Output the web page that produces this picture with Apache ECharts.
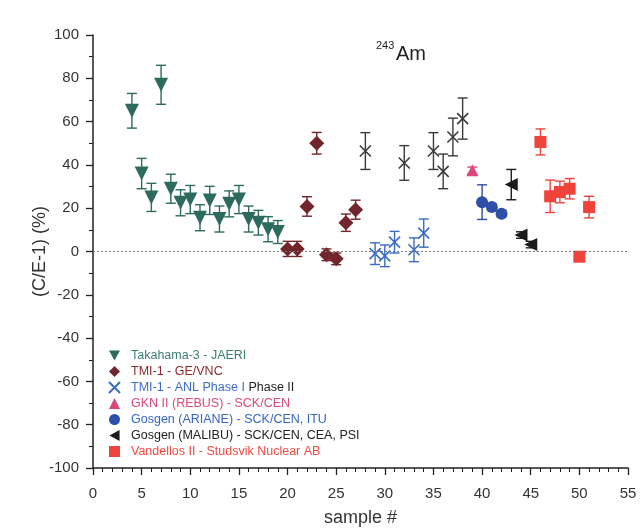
<!DOCTYPE html>
<html>
<head>
<meta charset="utf-8">
<script src="https://cdn.jsdelivr.net/npm/echarts@6/dist/echarts.min.js"></script>
<style>
  html, body { margin: 0; padding: 0; background: #fff; }
  #chart { width: 640px; height: 532px; }
</style>
</head>
<body>
<div id="chart"></div>
<script>
// Takahama-3 - JAERI
var takahamaX = [4, 5, 6, 7, 8, 9, 10, 11, 12, 13, 14, 15, 16, 17, 18, 19];
var takahamaY = [65, 36, 25, 77, 29, 22.5, 24, 15.6, 23.6, 15, 22, 24, 15, 13.3, 10.3, 9];
var takahamaErr = [8, 7, 6.5, 9, 6.7, 6, 6.5, 6, 6.5, 6, 6, 6.5, 6, 5.7, 5.8, 5.3];

// TMI-1 - GE/VNC
var geX = [20, 21, 22, 23, 24, 25, 26, 27];
var geY = [1.2, 1.2, 20.8, 50, -1.5, -3.4, 13.3, 19.3];
var geErr = [3.5, 3.5, 4.5, 5, 2.7, 2.7, 4, 4.4];

// TMI-1 - ANL Phase I
var anl1X = [29, 30, 31, 33, 34];
var anl1Y = [-1, -2, 4.3, 0.8, 8.5];
var anl1Err = [5, 5, 5, 5.5, 6.5];

// TMI-1 - ANL Phase II
var anl2X = [28, 32, 35, 36, 37, 38];
var anl2Y = [46.4, 40.9, 46.4, 37, 52.9, 61.4];
var anl2Err = [8.5, 8, 8.5, 8, 8.7, 9.5];

// GKN II (REBUS) - SCK/CEN
var gknX = [39];
var gknY = [37.5];
var gknErr = [1.5];

// Gosgen (ARIANE) - SCK/CEN, ITU
var arianeX = [40, 41, 42];
var arianeY = [22.8, 20.5, 17.4];
var arianeErr = [8, 1.5, 1.5];

// Gosgen (MALIBU) - SCK/CEN, CEA, PSI
var malibuX = [43, 44, 45];
var malibuY = [30.9, 7.6, 3.2];
var malibuErr = [7, 1.5, 1.5];

// Vandellos II - Studsvik Nuclear AB
var vandX = [46, 47, 48, 49, 50, 51];
var vandY = [50.6, 25.5, 27.5, 29, -2.4, 20.5];
var vandErr = [6, 7.5, 5, 4.7, 0, 5];

var xTicks = [0, 5, 10, 15, 20, 25, 30, 35, 40, 45, 50, 55];
var yTicks = [-100, -80, -60, -40, -20, 0, 20, 40, 60, 80, 100];

var FONT = '"Liberation Sans", Arial, sans-serif';
var CROSS = 'path://M0,0L10,10M10,0L0,10';
var TRI_DOWN = 'path://M0,0L12,0L6,11Z';
var TRI_LEFT = 'path://M11,0L11,12L0,6Z';

function pairs(xs, ys) {
  return xs.map(function (x, i) { return [x, ys[i]]; });
}

function errorBars(xs, ys, errs, color) {
  return {
    type: 'custom',
    silent: true,
    z: 1,
    encode: { x: 0, y: [1, 2] },
    data: xs.map(function (x, i) { return [x, ys[i] - errs[i], ys[i] + errs[i]]; }),
    renderItem: function (params, api) {
      var lo = api.coord([api.value(0), api.value(1)]);
      var hi = api.coord([api.value(0), api.value(2)]);
      var w = 5;
      var st = { stroke: color, lineWidth: 1.4 };
      return {
        type: 'group',
        children: [
          { type: 'line', shape: { x1: lo[0], y1: lo[1], x2: hi[0], y2: hi[1] }, style: st },
          { type: 'line', shape: { x1: lo[0] - w, y1: lo[1], x2: lo[0] + w, y2: lo[1] }, style: st },
          { type: 'line', shape: { x1: hi[0] - w, y1: hi[1], x2: hi[0] + w, y2: hi[1] }, style: st }
        ]
      };
    }
  };
}

var groups = [
  { name: 'Takahama-3 - JAERI', xs: takahamaX, ys: takahamaY, err: takahamaErr,
    color: '#2c6b5d', text: '#3b7f6f', symbol: TRI_DOWN, size: 14 },
  { name: 'TMI-1 - GE/VNC', xs: geX, ys: geY, err: geErr,
    color: '#72262c', text: '#8a2a30', symbol: 'diamond', size: 15 },
  { name: 'TMI-1 - ANL Phase I', xs: anl1X, ys: anl1Y, err: anl1Err,
    color: '#3a6cc4', text: '#3c6cc8', symbol: CROSS, size: 11, cross: true },
  { name: 'Phase II', xs: anl2X, ys: anl2Y, err: anl2Err,
    color: '#3a3a3a', text: '#222', symbol: CROSS, size: 11, cross: true, hidden: true },
  { name: 'GKN II (REBUS) - SCK/CEN', xs: gknX, ys: gknY, err: gknErr,
    color: '#e0457a', text: '#d84a7c', symbol: 'triangle', size: 12 },
  { name: 'Gosgen (ARIANE) - SCK/CEN, ITU', xs: arianeX, ys: arianeY, err: arianeErr,
    color: '#2f4ea8', text: '#3766c0', symbol: 'circle', size: 12 },
  { name: 'Gosgen (MALIBU) - SCK/CEN, CEA, PSI', xs: malibuX, ys: malibuY, err: malibuErr,
    color: '#1c1c1c', text: '#222', symbol: TRI_LEFT, size: 13 },
  { name: 'Vandellos II - Studsvik Nuclear AB', xs: vandX, ys: vandY, err: vandErr,
    color: '#f0433a', text: '#f04a40', symbol: 'rect', size: 12 }
];

var series = [];
groups.forEach(function (g) {
  series.push(errorBars(g.xs, g.ys, g.err, g.color));
});
groups.forEach(function (g) {
  series.push({
    type: 'scatter',
    name: g.name,
    z: 3,
    symbol: g.symbol,
    symbolSize: g.size,
    data: pairs(g.xs, g.ys),
    itemStyle: g.cross
      ? { color: 'rgba(0,0,0,0)', borderColor: g.color, borderWidth: 1.6, opacity: 1 }
      : { color: g.color, opacity: 1 },
    emphasis: { disabled: true }
  });
});
// zero reference line
series.push({
  type: 'line',
  data: [],
  silent: true,
  markLine: {
    silent: true,
    symbol: ['none', 'none'],
    label: { show: false },
    lineStyle: { color: '#777', type: [2, 2], width: 1 },
    data: [{ yAxis: 0 }]
  }
});

var legendData = groups.filter(function (g) { return !g.hidden; }).map(function (g) {
  return { name: g.name, textStyle: { color: g.text } };
});

var chart = echarts.init(document.getElementById('chart'), null, { renderer: 'canvas' });
chart.setOption({
  animation: false,
  backgroundColor: '#fff',
  textStyle: { fontFamily: FONT },
  title: [
    { text: '243', left: 376, top: 40, padding: 0, textStyle: { fontFamily: FONT, fontSize: 11, fontWeight: 'normal', color: '#222' } },
    { text: 'Am', left: 396, top: 44, padding: 0, textStyle: { fontFamily: FONT, fontSize: 20, fontWeight: 'normal', color: '#222' } }
  ],
  grid: { left: 93, right: 12, top: 35, bottom: 64, containLabel: false },
  legend: {
    orient: 'vertical',
    left: 108,
    top: 349,
    itemWidth: 11,
    itemHeight: 11,
    itemGap: 3,
    padding: 0,
    data: legendData,
    textStyle: { fontFamily: FONT, fontSize: 12.5, padding: [0, 0, 0, 6] },
    formatter: function (name) {
      if (name === 'TMI-1 - ANL Phase I') return '{a|TMI-1 - ANL Phase I} {k|Phase II}';
      return name;
    },
    selectedMode: false
  },
  xAxis: {
    type: 'value',
    min: 0, max: 55, interval: 5,
    name: 'sample #',
    nameLocation: 'middle',
    nameGap: 41,
    nameMoveOverlap: false,
    nameTextStyle: { fontFamily: FONT, fontSize: 18, color: '#333' },
    axisLine: { show: true, onZero: false, lineStyle: { color: '#222', width: 1.5 } },
    axisTick: { show: true, inside: false, length: 7, lineStyle: { color: '#222', width: 1.3 } },
    minorTick: { show: true, splitNumber: 5, length: 4, lineStyle: { color: '#222', width: 1 } },
    axisLabel: {
      fontFamily: FONT, fontSize: 15, color: '#333', margin: 18,
      formatter: function (v) { return xTicks.indexOf(v) >= 0 ? String(v) : ''; }
    },
    splitLine: { show: false }
  },
  yAxis: {
    type: 'value',
    min: -100, max: 100, interval: 20,
    name: '(C/E-1) (%)',
    nameLocation: 'middle',
    nameGap: 44,
    nameMoveOverlap: false,
    nameTextStyle: { fontFamily: FONT, fontSize: 18, color: '#333' },
    axisLine: { show: true, onZero: false, lineStyle: { color: '#222', width: 1.5 } },
    axisTick: { show: true, inside: false, length: 7, lineStyle: { color: '#222', width: 1.3 } },
    minorTick: { show: true, splitNumber: 2, length: 4, lineStyle: { color: '#222', width: 1 } },
    axisLabel: {
      fontFamily: FONT, fontSize: 15, color: '#333', margin: 14,
      formatter: function (v) { return yTicks.indexOf(v) >= 0 ? String(v) : ''; }
    },
    splitLine: { show: false }
  },
  series: series
});

// two-colour text for the ANL legend entry
chart.setOption({
  legend: {
    textStyle: {
      rich: {
        a: { color: '#3c6cc8', fontFamily: FONT, fontSize: 12.5 },
        k: { color: '#222', fontFamily: FONT, fontSize: 12.5 }
      }
    }
  }
});
</script>
</body>
</html>
